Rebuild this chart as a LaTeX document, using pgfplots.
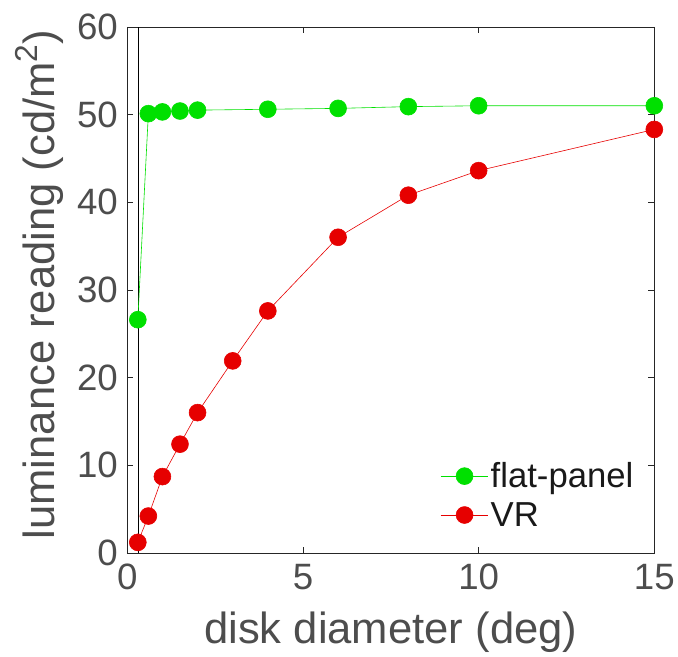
\documentclass[border=0pt]{standalone}
\usepackage{fontspec}
\setmainfont{Liberation Sans}
\usepackage{pgfplots}
\pgfplotsset{compat=1.18}
\definecolor{mgreen}{RGB}{0,224,0}
\definecolor{mred}{RGB}{230,0,0}
\definecolor{axgray}{RGB}{38,38,38}
\definecolor{tkgray}{RGB}{77,77,77}
\begin{document}
\begin{tikzpicture}
\begin{axis}[
  scale only axis,
  width=530bp, height=529bp,
  xmin=0, xmax=15, ymin=0, ymax=60,
  xtick={0,5,10,15}, ytick={0,10,20,30,40,50,60},
  tick align=inside,
  major tick length=6bp,
  axis line style={axgray, line width=0.6bp},
  every tick/.style={axgray, line width=0.6bp},
  /pgf/number format/assume math mode=true,
  ticklabel style={font=\fontsize{37}{40}\selectfont, text=tkgray},
  xticklabel style={yshift=-8bp},
  yticklabel style={xshift=-6bp},
  xlabel={disk diameter (deg)},
  ylabel={luminance reading (cd/m\raisebox{0.75ex}{\fontsize{32}{32}\selectfont 2})},
  label style={font=\fontsize{44}{48}\selectfont, text=tkgray},
  xlabel style={at={(axis description cs:0.5,-0.15)}, anchor=center},
  ylabel style={at={(axis description cs:-0.166,0.51)}, anchor=center},
  legend style={draw=none, fill=none, font=\fontsize{35}{40}\selectfont, text=black!90,
    at={(0.97,0.04)}, anchor=south east, row sep=9bp},
  legend cell align=left,
  legend image code/.code={\draw[mark repeat=2,mark phase=2] plot coordinates {(0bp,0bp) (24bp,0bp) (48bp,0bp)};},
]
\addplot[black, line width=0.6bp, forget plot] coordinates {(0.3,0) (0.3,60)};
\addplot[mgreen, line width=0.6bp, mark=*, mark size=8.5bp, mark options={fill=mgreen, draw=mgreen}] coordinates {
(0.3,26.6) (0.6,50.1) (1,50.3) (1.5,50.4) (2,50.5) (4,50.6) (6,50.7) (8,50.9) (10,51.0) (15,51.0)};
\addlegendentry{flat-panel}
\addplot[mred, line width=0.6bp, mark=*, mark size=8.5bp, mark options={fill=mred, draw=mred}] coordinates {
(0.3,1.2) (0.6,4.2) (1,8.7) (1.5,12.4) (2,16.0) (3,21.9) (4,27.6) (6,36.0) (8,40.8) (10,43.6) (15,48.3)};
\addlegendentry{VR}
\end{axis}
\path[use as bounding box] (current axis.south west) ++(-128bp,-104bp) rectangle ++(678bp,660bp);
\end{tikzpicture}
\end{document}
